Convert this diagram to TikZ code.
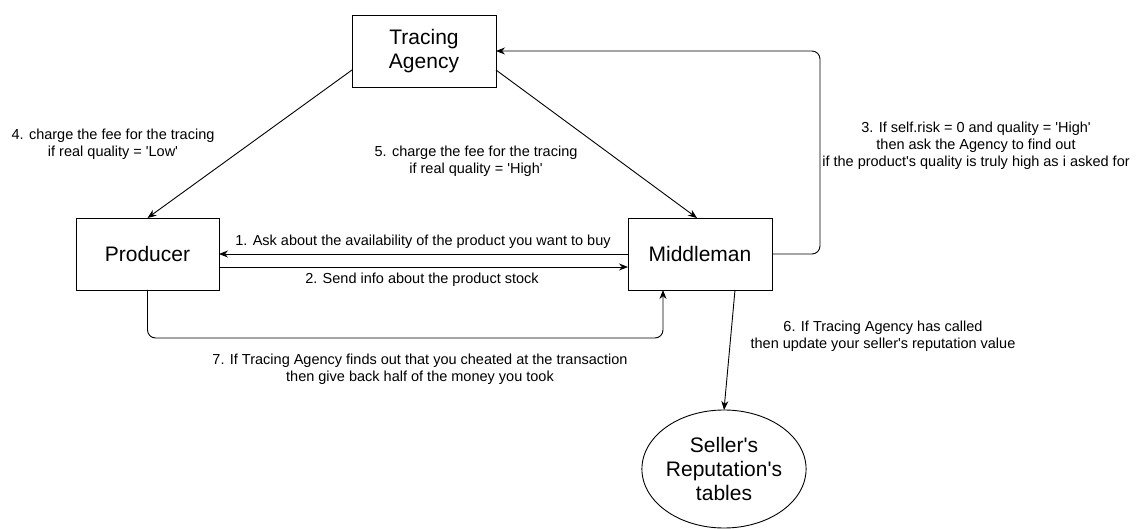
\documentclass[tikz,border=0pt]{standalone}
\usepackage{fontspec}
\setmainfont{Liberation Sans}
\usetikzlibrary{arrows.meta,calc,shapes.geometric}
\newcommand{\sq}{\textquotesingle}
\begin{document}
\begin{tikzpicture}[x=1pt,y=-1pt,
  every node/.style={inner sep=0pt, outer sep=0pt},
  box/.style={draw, line width=0.9pt, minimum width=144pt, minimum height=72pt, align=center, font=\fontsize{21}{24}\selectfont},
  oval/.style={draw, line width=0.9pt, ellipse, minimum width=145pt, minimum height=118pt, align=center, font=\fontsize{21}{24}\selectfont},
  lbl/.style={align=center, font=\fontsize{14.5}{17}\selectfont},
  arr/.style={draw, line width=0.9pt, -{Stealth[length=9pt,width=7pt]}}]
\useasboundingbox (0,0) rectangle (1136,529);
\fill[white] (0,0) rectangle (1136,529);

\node[box] (ta) at (424,51) {Tracing\\Agency};
\node[box, minimum width=143pt] (pr) at (147.5,254) {Producer};
\node[box] (mm) at (700,254) {Middleman};
\node[oval] (sr) at (724,469) {Seller\sq s\\Reputation\sq s\\tables};

% 4
\draw[arr] ($(ta.south west)+(0,-17)$) -- (pr.north);
% 5
\draw[arr] ($(ta.south east)+(0,-17)$) -- ($(mm.north)+(-3,0)$);
% 3
\draw[arr, rounded corners=8pt] (mm.east) -- ++(48,0) |- (ta.east);
% 1
\draw[arr] (mm.west) -- (pr.east);
% 2
\draw[arr] ($(pr.east)+(0,13)$) -- ($(mm.west)+(0,13)$);
% 7
\draw[arr, rounded corners=8pt] (pr.south) -- ++(0,48) -| ($(mm.south)+(-37,0)$);
% 6
\draw[arr] ($(mm.south)+(35,0)$) -- (sr.north);

\node[lbl] (l4) at (113,144) {4. charge the fee for the tracing\\if real quality = \sq Low\sq};
\node[lbl] (l5) at (476,161) {5. charge the fee for the tracing\\if real quality = \sq High\sq};
\node[lbl] (l3) at (976,146) {3. If self.risk = 0 and quality = \sq High\sq\\then ask the Agency to find out\\if the product\sq s quality is truly high as i asked for};
\node[lbl] (l1) at (423,242) {1. Ask about the availability of the product you want to buy};
\node[lbl] (l2) at (422,280) {2. Send info about the product stock};
\node[lbl] (l7) at (420,369) {7. If Tracing Agency finds out that you cheated at the transaction\\then give back half of the money you took};
\node[lbl] (l6) at (883,336) {6. If Tracing Agency has called\\then update your seller\sq s reputation value};
\end{tikzpicture}
\end{document}
